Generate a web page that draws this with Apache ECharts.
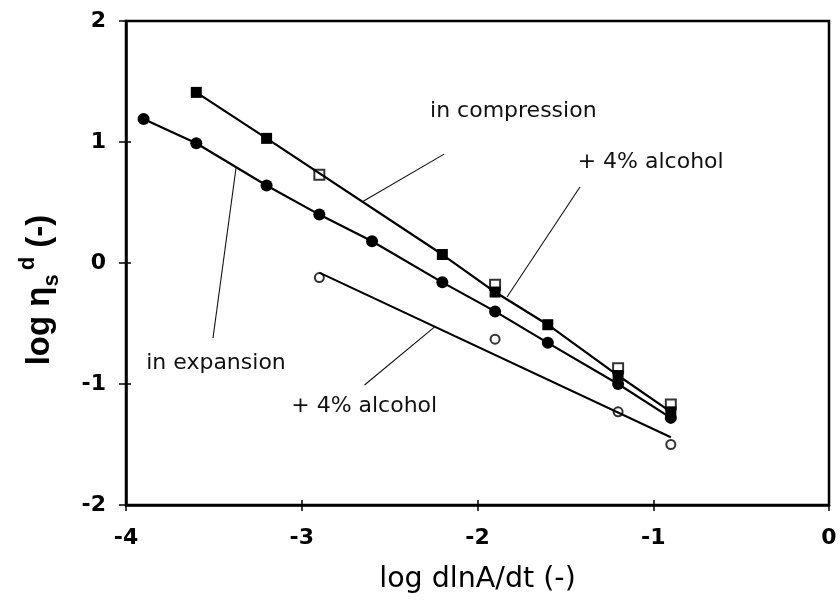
<!DOCTYPE html>
<html>
<head>
<meta charset="utf-8">
<script src="https://cdn.jsdelivr.net/npm/echarts@6/dist/echarts.min.js"></script>
<style>
  html, body { margin: 0; padding: 0; background: #fff; }
  #chart { width: 840px; height: 611px; }
</style>
</head>
<body>
<div id="chart"></div>
<script>
// Surface dilational viscosity vs. relative expansion/compression rate (log-log)
const rateCompression = [-3.6, -3.2, -2.2, -1.9, -1.6, -1.2, -0.9];
const etaCompression  = [1.41, 1.03, 0.07, -0.24, -0.51, -0.93, -1.23];

const rateCompAlcohol = [-2.9, -1.9, -1.2, -0.9];
const etaCompAlcohol  = [0.73, -0.18, -0.87, -1.17];

const rateExpansion = [-3.9, -3.6, -3.2, -2.9, -2.6, -2.2, -1.9, -1.6, -1.2, -0.9];
const etaExpansion  = [1.19, 0.99, 0.64, 0.40, 0.18, -0.16, -0.40, -0.66, -1.00, -1.28];

const rateExpAlcohol = [-2.9, -1.9, -1.2, -0.9];
const etaExpAlcohol  = [-0.12, -0.63, -1.23, -1.50];

// straight trend line drawn through the expansion + alcohol points
const trendRate = [-2.9, -0.9];
const trendEta  = [-0.08, -1.44];

const xTicks = [-4, -3, -2, -1, 0];
const yTicks = [-2, -1, 0, 1, 2];

// annotation texts, their anchors (left edge, vertical middle) and leader lines, in data units
const noteText = ['in compression', '+ 4% alcohol', 'in expansion', '+ 4% alcohol'];
const noteAt   = [[-2.27, 1.25], [-1.43, 0.835], [-3.885, -0.826], [-3.06, -1.182]];
const leaderFrom = [[-2.19, 0.90], [-1.417, 0.628], [-3.505, -0.62], [-2.643, -1.008]];
const leaderTo   = [[-2.65, 0.51], [-1.832, -0.281], [-3.374, 0.785], [-2.242, -0.526]];

const zip = (xs, ys) => xs.map((x, i) => [x, ys[i]]);

const FONT = 'DejaVu Sans';
const black = '#000';

const baseX = { type: 'value', min: xTicks[0], max: xTicks[xTicks.length - 1], interval: 1 };
const baseY = { type: 'value', min: yTicks[0], max: yTicks[yTicks.length - 1], interval: 1 };

const option = {
  animation: false,
  backgroundColor: '#fff',
  grid: {
    left: 126, right: 11, top: 21, bottom: 106,
    show: true, borderColor: black, borderWidth: 2.5
  },
  xAxis: [
    Object.assign({}, baseX, {
      position: 'bottom',
      name: 'log dlnA/dt (-)',
      nameLocation: 'middle',
      nameGap: 60,
      nameTextStyle: { fontFamily: FONT, fontSize: 28.5, color: black },
      axisLine: { show: true, onZero: false, lineStyle: { color: black, width: 2.5 } },
      axisTick: { show: true, inside: false, length: 6, lineStyle: { color: black, width: 1.5 } },
      axisLabel: { margin: 22, fontFamily: FONT, fontWeight: 'bold', fontSize: 22, color: black },
      splitLine: { show: false }
    }),
    // inner half of the tick marks that cross the bottom axis
    Object.assign({}, baseX, {
      position: 'bottom',
      axisLine: { show: false, onZero: false },
      axisTick: { show: true, inside: true, length: 5, lineStyle: { color: black, width: 1.5 } },
      axisLabel: { show: false },
      splitLine: { show: false }
    })
  ],
  yAxis: [
    Object.assign({}, baseY, {
      position: 'left',
      axisLine: { show: true, onZero: false, lineStyle: { color: black, width: 2.5 } },
      axisTick: { show: true, inside: false, length: 7, lineStyle: { color: black, width: 1.5 } },
      axisLabel: { margin: 20, fontFamily: FONT, fontWeight: 'bold', fontSize: 22, color: black },
      splitLine: { show: false }
    }),
    Object.assign({}, baseY, {
      position: 'left',
      axisLine: { show: false, onZero: false },
      axisTick: { show: true, inside: true, length: 5, lineStyle: { color: black, width: 1.5 } },
      axisLabel: { show: false },
      splitLine: { show: false }
    })
  ],
  series: [
    {
      name: 'in compression + 4% alcohol',
      type: 'scatter',
      data: zip(rateCompAlcohol, etaCompAlcohol),
      symbol: 'rect', symbolSize: 10,
      itemStyle: { color: '#fff', borderColor: black, borderWidth: 2 },
      z: 2
    },
    {
      name: 'in expansion + 4% alcohol',
      type: 'scatter',
      data: zip(rateExpAlcohol, etaExpAlcohol),
      symbol: 'circle', symbolSize: 9,
      itemStyle: { color: '#fff', borderColor: black, borderWidth: 2 },
      z: 2
    },
    {
      name: 'trend expansion + 4% alcohol',
      type: 'line',
      data: zip(trendRate, trendEta),
      symbol: 'none',
      lineStyle: { color: black, width: 2 },
      z: 3
    },
    {
      name: 'in compression',
      type: 'line',
      data: zip(rateCompression, etaCompression),
      symbol: 'rect', symbolSize: 11, showAllSymbol: true,
      itemStyle: { color: black },
      lineStyle: { color: black, width: 2.2 },
      z: 3
    },
    {
      name: 'in expansion',
      type: 'line',
      data: zip(rateExpansion, etaExpansion),
      symbol: 'circle', symbolSize: 12, showAllSymbol: true,
      itemStyle: { color: black },
      lineStyle: { color: black, width: 2.2 },
      z: 3
    }
  ]
};

const chart = echarts.init(document.getElementById('chart'));
chart.setOption(option);

const toPx = p => chart.convertToPixel({ gridIndex: 0 }, p);
const graphics = [];

noteText.forEach((txt, i) => {
  const a = toPx(noteAt[i]);
  graphics.push({
    type: 'text', x: a[0], y: a[1], z: 10,
    style: { text: txt, fontFamily: FONT, fontSize: 22, fill: '#111', align: 'left', verticalAlign: 'middle' }
  });
  const p1 = toPx(leaderFrom[i]);
  const p2 = toPx(leaderTo[i]);
  graphics.push({
    type: 'line', z: 10,
    shape: { x1: p1[0], y1: p1[1], x2: p2[0], y2: p2[1] },
    style: { stroke: '#111', lineWidth: 1.1 }
  });
});

// rotated y-axis title: log η_s^d (-)
graphics.push({
  type: 'text', x: 40, y: 290, rotation: Math.PI / 2, z: 10,
  style: {
    text: '{m|log η}{sub|s}{sup|d}{m| (-)}',
    align: 'center', verticalAlign: 'middle',
    rich: {
      m:   { fontFamily: 'Liberation Sans', fontWeight: 'bold', fontSize: 33, lineHeight: 46, verticalAlign: 'middle', fill: black },
      sub: { fontFamily: 'Liberation Sans', fontWeight: 'bold', fontSize: 22, lineHeight: 20, verticalAlign: 'bottom', fill: black },
      sup: { fontFamily: 'Liberation Sans', fontWeight: 'bold', fontSize: 22, lineHeight: 20, verticalAlign: 'top', fill: black, padding: [0, 0, 0, 4] }
    }
  }
});

chart.setOption({ graphic: graphics });
</script>
</body>
</html>
